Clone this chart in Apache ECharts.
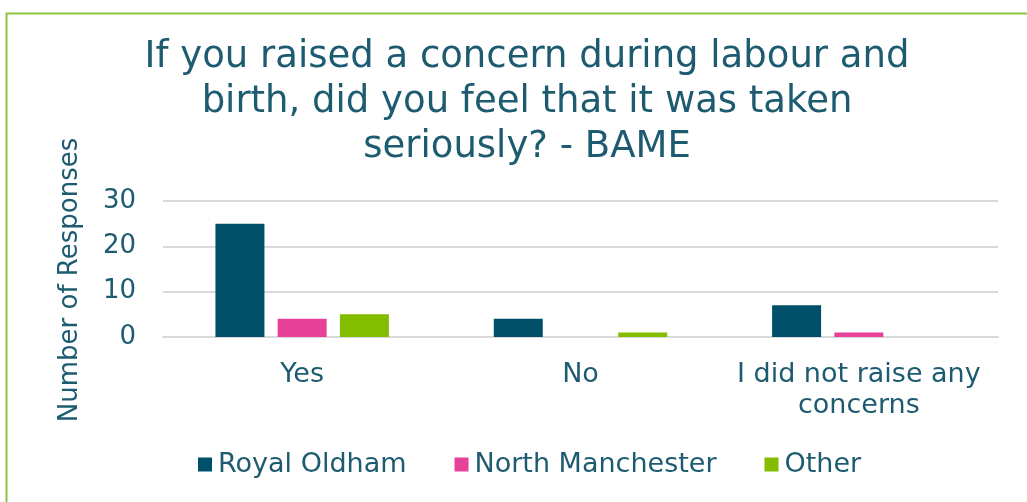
<!DOCTYPE html>
<html><head><meta charset="utf-8">
<script src="https://cdn.jsdelivr.net/npm/echarts@6/dist/echarts.min.js"></script>
<style>html,body{margin:0;padding:0;background:#fff;}#c{width:1027px;height:502px;}</style>
</head><body><div id="c"></div>
<script>
const categories = ['Yes', 'No', 'I did not raise any\nconcerns'];
const royalOldham = [25, 4, 7];
const northManchester = [4, 0, 1];
const other = [5, 1, 0];
const yTicks = [0, 10, 20, 30];

const textColor = '#1D5B70';
const font = 'DejaVu Sans';
const chart = echarts.init(document.getElementById('c'));
chart.setOption({
  animation: false,
  textStyle: { fontFamily: font, color: textColor },
  graphic: [{
    type: 'rect', left: 4, top: 11, shape: { width: 1200, height: 700 },
    style: { fill: 'none', stroke: '#8CC43E', lineWidth: 2 }, z: -1
  }],
  title: {
    text: 'If you raised a concern during labour and\nbirth, did you feel that it was taken\nseriously? - BAME',
    left: 522, top: 30, textAlign: 'center',
    textStyle: { fontFamily: font, fontSize: 37, fontWeight: 'normal', color: textColor, lineHeight: 45 }
  },
  legend: {
    bottom: 19, left: 193, itemWidth: 14, itemHeight: 14, itemGap: 48,
    icon: 'rect',
    textStyle: { fontFamily: font, fontSize: 27, color: textColor, padding: [0, 0, 0, 1] },
    data: ['Royal Oldham', 'North Manchester', 'Other']
  },
  grid: { left: 163, right: 29, top: 201, bottom: 165, containLabel: false },
  xAxis: {
    type: 'category', data: categories,
    axisLine: { show: true, lineStyle: { color: '#D9D9D9', width: 2 } },
    axisTick: { show: false },
    axisLabel: { interval: 0, fontFamily: font, fontSize: 27, color: textColor, margin: 22, lineHeight: 31 }
  },
  yAxis: {
    type: 'value', min: 0, max: 30, interval: 10,
    name: 'Number of Responses', nameLocation: 'middle', nameGap: 80, nameRotate: 90,
    nameTextStyle: { fontFamily: font, fontSize: 26, color: textColor, padding: [0, 22, 0, 0] },
    axisLine: { show: false }, axisTick: { show: false },
    axisLabel: { fontFamily: font, fontSize: 26, color: textColor, margin: 27,
      formatter: v => yTicks.includes(v) ? String(v) : '' },
    splitLine: { lineStyle: { color: '#D9D9D9', width: 2 } }
  },
  series: [
    { name: 'Royal Oldham', type: 'bar', data: royalOldham, barWidth: 49, barGap: '27%', itemStyle: { color: '#005069' } },
    { name: 'North Manchester', type: 'bar', data: northManchester, barWidth: 49, itemStyle: { color: '#E8419A' } },
    { name: 'Other', type: 'bar', data: other, barWidth: 49, itemStyle: { color: '#84BD00' } }
  ]
});
</script></body></html>
